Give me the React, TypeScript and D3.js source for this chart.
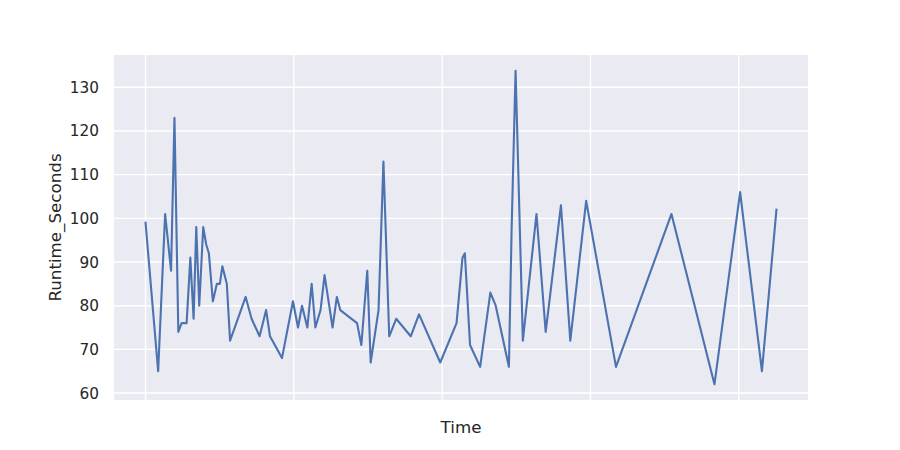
import * as d3 from "d3";

// Time offsets (gridline units of 100) and runtimes
const times = [
  0, 8.5, 13.2, 17.2, 19.5, 22.1, 24.3, 27.7, 30.2, 32.4, 34.2, 36.2, 38.9,
  40.9, 42.7, 45.4, 48.1, 50.1, 51.8, 54.8, 57.0, 67.5, 71.5, 76.9, 81.3,
  83.9, 92.0, 99.4, 102.8, 105.5, 109.1, 112.0, 114.5, 118.0, 120.7, 126.1,
  129.0, 131.3, 142.6, 145.5, 149.5, 151.8, 157.1, 160.4, 164.3, 169.0, 178.8,
  184.4, 198.7, 209.7, 213.7, 215.3, 218.8, 225.6, 232.5, 236.1, 245.0, 246.8,
  249.5, 254.4, 263.6, 269.8, 280.1, 286.4, 297.1, 317.2, 354.6, 383.6, 400.9,
  415.6, 425.4,
];

const runtimes = [
  99, 65, 101, 88, 123, 74, 76, 76, 91, 77, 98, 80, 98, 94, 92, 81, 85, 85, 89,
  85, 72, 82, 77, 73, 79, 73, 68, 81, 75, 80, 75, 85, 75, 79, 87, 75, 82, 79,
  76, 71, 88, 67, 79, 113, 73, 77, 73, 78, 67, 76, 91, 92, 71, 66, 83, 80, 66,
  97, 133.8, 72, 101, 74, 103, 72, 104, 66, 101, 62, 106, 65, 102,
];

const xTicks = [0, 100, 200, 300, 400];
const yTicks = [60, 70, 80, 90, 100, 110, 120, 130];

const width = 900;
const height = 450;
const margin = { top: 55, right: 92, bottom: 50, left: 114 };
const font = "'DejaVu Sans', sans-serif";

export default function App() {
  const points = times.map((t, i) => ({ t, v: runtimes[i] }));

  const [xMin, xMax] = d3.extent(times) as [number, number];
  const xPad = (xMax - xMin) * 0.05;
  const x = d3
    .scaleLinear()
    .domain([xMin - xPad, xMax + xPad])
    .range([margin.left, width - margin.right]);

  const [yMin, yMax] = d3.extent(runtimes) as [number, number];
  const yPad = (yMax - yMin) * 0.05;
  const y = d3
    .scaleLinear()
    .domain([yMin - yPad, yMax + yPad])
    .range([height - margin.bottom, margin.top]);

  const line = d3
    .line<{ t: number; v: number }>()
    .x((d) => x(d.t))
    .y((d) => y(d.v));

  const plotW = width - margin.left - margin.right;
  const plotH = height - margin.top - margin.bottom;

  return (
    <svg
      width={width}
      height={height}
      style={{ position: "absolute", left: 0, top: 0, background: "#fff" }}
    >
      <rect
        x={margin.left}
        y={margin.top}
        width={plotW}
        height={plotH}
        fill="#EAEAF2"
      />
      {yTicks.map((t) => (
        <line
          key={"gy" + t}
          x1={margin.left}
          x2={width - margin.right}
          y1={y(t)}
          y2={y(t)}
          stroke="#fff"
          strokeWidth={1.4}
        />
      ))}
      {xTicks.map((t) => (
        <line
          key={"gx" + t}
          x1={x(t)}
          x2={x(t)}
          y1={margin.top}
          y2={height - margin.bottom}
          stroke="#fff"
          strokeWidth={1.4}
        />
      ))}
      <path
        d={line(points) || ""}
        fill="none"
        stroke="#4C72B0"
        strokeWidth={2.1}
        strokeLinejoin="round"
        strokeLinecap="square"
      />
      {yTicks.map((t) => (
        <text
          key={"ty" + t}
          x={margin.left - 15}
          y={y(t)}
          dy="0.36em"
          textAnchor="end"
          fontFamily={font}
          fontSize={15.3}
          fill="#262626"
        >
          {t}
        </text>
      ))}
      <text
        x={margin.left + plotW / 2}
        y={433}
        textAnchor="middle"
        fontFamily={font}
        fontSize={16.7}
        fill="#262626"
      >
        Time
      </text>
      <text
        transform={`translate(61,${margin.top + plotH / 2}) rotate(-90)`}
        textAnchor="middle"
        fontFamily={font}
        fontSize={16.7}
        fill="#262626"
      >
        Runtime_Seconds
      </text>
    </svg>
  );
}
